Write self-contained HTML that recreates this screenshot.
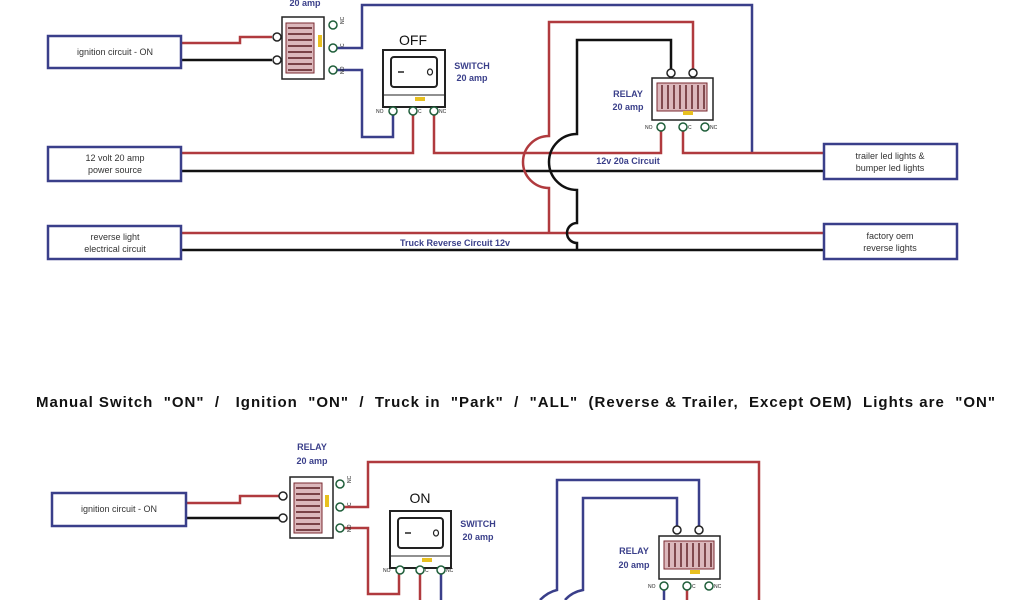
<!DOCTYPE html>
<html><head><meta charset="utf-8"><style>
html,body{margin:0;padding:0;background:#fff;}
svg{display:block;font-family:"Liberation Sans",sans-serif;}
.r{stroke:#b03a3e;stroke-width:2.5;fill:none}
.k{stroke:#111;stroke-width:2.5;fill:none}
.b{stroke:#3a3f8a;stroke-width:2.5;fill:none}
.box{fill:#fff;stroke:#3a3f8a;stroke-width:2.5}
.t{font-size:9px;fill:#333;text-anchor:middle}
.lab{font-size:9px;fill:#3a3f8a;font-weight:bold;text-anchor:middle}
.term{fill:#fff;stroke:#1f5e3a;stroke-width:1.5}
.tw{fill:#fff;stroke:#222;stroke-width:1.5}
.sm{font-size:5px;fill:#222}
</style></head><body>
<svg width="1024" height="600" viewBox="0 0 1024 600">
<defs>
<g id="coilv">
  <rect x="0" y="0" width="28" height="50" fill="#dcb8bc" stroke="#7a2a30" stroke-width="1"/>
  <g stroke="#5a1a20" stroke-width="1.4">
   <line x1="2" y1="5" x2="26" y2="5"/><line x1="2" y1="11" x2="26" y2="11"/><line x1="2" y1="17" x2="26" y2="17"/>
   <line x1="2" y1="23" x2="26" y2="23"/><line x1="2" y1="29" x2="26" y2="29"/><line x1="2" y1="35" x2="26" y2="35"/>
   <line x1="2" y1="41" x2="26" y2="41"/><line x1="2" y1="47" x2="26" y2="47"/>
  </g>
</g>
<g id="coilh">
  <rect x="0" y="0" width="50" height="28" fill="#dcb8bc" stroke="#7a2a30" stroke-width="1"/>
  <g stroke="#5a1a20" stroke-width="1.4">
   <line x1="5" y1="2" x2="5" y2="26"/><line x1="11" y1="2" x2="11" y2="26"/><line x1="17" y1="2" x2="17" y2="26"/>
   <line x1="23" y1="2" x2="23" y2="26"/><line x1="29" y1="2" x2="29" y2="26"/><line x1="35" y1="2" x2="35" y2="26"/>
   <line x1="41" y1="2" x2="41" y2="26"/><line x1="47" y1="2" x2="47" y2="26"/>
  </g>
</g>
</defs>

<!-- ============ TOP ============ -->
<text x="305" y="6" class="lab">20 amp</text>
<polyline class="r" points="181,43 240,43 240,37 272,37"/>
<polyline class="k" points="181,60 272,60"/>
<polyline class="b" points="337,48 362,48 362,5 752,5 752,153"/>
<polyline class="b" points="337,70 362,70 362,137 393,137 393,115"/>
<polyline class="r" points="181,153 413,153 413,115"/>
<polyline class="r" points="434,115 434,153 661,153 661,131"/>
<polyline class="r" points="683,131 683,153 823,153"/>
<line class="k" x1="181" y1="171" x2="823" y2="171"/>
<line class="r" x1="181" y1="233" x2="823" y2="233"/>
<line class="k" x1="181" y1="250" x2="823" y2="250"/>
<path class="r" d="M549,233 L549,188 A26,26 0 0 1 549,136 L549,22 L693,22 L693,69"/>
<path class="k" d="M577,250 L577,243 A10,10 0 0 1 577,223 L577,190 A28,28 0 0 1 577,134 L577,40 L671,40 L671,69"/>
<text x="628" y="164" class="lab">12v 20a Circuit</text>
<text x="455" y="246" class="lab">Truck Reverse Circuit  12v</text>

<rect x="282" y="17" width="42" height="62" fill="#fff" stroke="#222" stroke-width="1.5"/>
<use href="#coilv" x="286" y="23"/>
<rect x="318" y="35" width="4" height="12" fill="#e8c020"/>
<circle class="tw" cx="277" cy="37" r="4"/><circle class="tw" cx="277" cy="60" r="4"/>
<circle class="term" cx="333" cy="25" r="4"/><circle class="term" cx="333" cy="48" r="4"/><circle class="term" cx="333" cy="70" r="4"/>
<text x="344" y="24" class="sm" transform="rotate(-90 344 24)">NC</text>
<text x="344" y="47" class="sm" transform="rotate(-90 344 47)">C</text>
<text x="344" y="74" class="sm" transform="rotate(-90 344 74)">NO</text>

<text x="413" y="45" style="font-size:14px;fill:#111" text-anchor="middle">OFF</text>
<rect x="383" y="50" width="62" height="57" fill="#fff" stroke="#222" stroke-width="2"/>
<rect x="391" y="57" width="46" height="30" rx="3" fill="#fff" stroke="#222" stroke-width="2"/>
<line x1="398" y1="72" x2="404" y2="72" stroke="#222" stroke-width="1.5"/>
<ellipse cx="430" cy="72" rx="2.5" ry="3" fill="none" stroke="#222" stroke-width="1.2"/>
<line x1="383" y1="95" x2="445" y2="95" stroke="#222" stroke-width="1"/>
<rect x="415" y="97" width="10" height="4" fill="#e8c020"/>
<circle class="term" cx="393" cy="111" r="4"/><circle class="term" cx="413" cy="111" r="4"/><circle class="term" cx="434" cy="111" r="4"/>
<text x="376" y="113" class="sm">NO</text><text x="418" y="113" class="sm">C</text><text x="439" y="113" class="sm">NC</text>
<text x="472" y="69" class="lab">SWITCH</text><text x="472" y="81" class="lab">20 amp</text>

<rect x="652" y="78" width="61" height="42" fill="#fff" stroke="#222" stroke-width="1.5"/>
<use href="#coilh" x="657" y="83"/>
<rect x="683" y="111" width="10" height="4" fill="#e8c020"/>
<circle class="tw" cx="671" cy="73" r="4"/><circle class="tw" cx="693" cy="73" r="4"/>
<circle class="term" cx="661" cy="127" r="4"/><circle class="term" cx="683" cy="127" r="4"/><circle class="term" cx="705" cy="127" r="4"/>
<text x="645" y="129" class="sm">NO</text><text x="688" y="129" class="sm">C</text><text x="710" y="129" class="sm">NC</text>
<text x="628" y="97" class="lab">RELAY</text><text x="628" y="110" class="lab">20 amp</text>

<rect class="box" x="48" y="36" width="133" height="32"/><text x="115" y="55" class="t">ignition circuit - ON</text>
<rect class="box" x="48" y="147" width="133" height="34"/><text x="115" y="161" class="t">12 volt 20 amp</text><text x="115" y="173" class="t">power source</text>
<rect class="box" x="48" y="226" width="133" height="33"/><text x="115" y="240" class="t">reverse light</text><text x="115" y="252" class="t">electrical circuit</text>
<rect class="box" x="824" y="144" width="133" height="35"/><text x="890" y="159" class="t">trailer led lights &amp;</text><text x="890" y="171" class="t">bumper led lights</text>
<rect class="box" x="824" y="224" width="133" height="35"/><text x="890" y="239" class="t">factory oem</text><text x="890" y="251" class="t">reverse lights</text>

<!-- ============ TITLE ============ -->
<text x="36" y="407" textLength="959" lengthAdjust="spacing" style="font-size:15px;font-weight:bold;fill:#111" xml:space="preserve">Manual Switch  "ON"  /   Ignition  "ON"  /  Truck in  "Park"  /  "ALL"  (Reverse &amp; Trailer,  Except OEM)  Lights are  "ON"</text>

<!-- ============ BOTTOM ============ -->
<text x="312" y="450" class="lab">RELAY</text><text x="312" y="464" class="lab">20 amp</text>
<polyline class="r" points="186,503 240,503 240,496 279,496"/>
<polyline class="k" points="186,518 279,518"/>
<polyline class="r" points="344,507 368,507 368,462 759,462 759,600"/>
<polyline class="r" points="344,528 368,528 368,594 399,594 399,574"/>
<line class="r" x1="420" y1="574" x2="420" y2="600"/>
<line class="b" x1="441" y1="574" x2="441" y2="600"/>
<path class="b" d="M699,526 L699,480 L557,480 L557,590 Q548,592 540,600"/>
<path class="b" d="M677,526 L677,498 L583,498 L583,590 Q572,592 565,600"/>
<line class="b" x1="664" y1="589" x2="664" y2="600"/>
<line class="r" x1="687" y1="589" x2="687" y2="600"/>

<rect x="290" y="477" width="43" height="61" fill="#fff" stroke="#222" stroke-width="1.5"/>
<use href="#coilv" x="294" y="483"/>
<rect x="325" y="495" width="4" height="12" fill="#e8c020"/>
<circle class="tw" cx="283" cy="496" r="4"/><circle class="tw" cx="283" cy="518" r="4"/>
<circle class="term" cx="340" cy="484" r="4"/><circle class="term" cx="340" cy="507" r="4"/><circle class="term" cx="340" cy="528" r="4"/>
<text x="351" y="483" class="sm" transform="rotate(-90 351 483)">NC</text>
<text x="351" y="506" class="sm" transform="rotate(-90 351 506)">C</text>
<text x="351" y="532" class="sm" transform="rotate(-90 351 532)">NO</text>

<text x="420" y="503" style="font-size:14px;fill:#111" text-anchor="middle">ON</text>
<rect x="390" y="511" width="61" height="57" fill="#fff" stroke="#222" stroke-width="2"/>
<rect x="398" y="518" width="45" height="30" rx="3" fill="#fff" stroke="#222" stroke-width="2"/>
<line x1="405" y1="533" x2="411" y2="533" stroke="#222" stroke-width="1.5"/>
<ellipse cx="436" cy="533" rx="2.5" ry="3" fill="none" stroke="#222" stroke-width="1.2"/>
<line x1="390" y1="556" x2="451" y2="556" stroke="#222" stroke-width="1"/>
<rect x="422" y="558" width="10" height="4" fill="#e8c020"/>
<circle class="term" cx="400" cy="570" r="4"/><circle class="term" cx="420" cy="570" r="4"/><circle class="term" cx="441" cy="570" r="4"/>
<text x="383" y="572" class="sm">NO</text><text x="425" y="572" class="sm">C</text><text x="446" y="572" class="sm">NC</text>
<text x="478" y="527" class="lab">SWITCH</text><text x="478" y="540" class="lab">20 amp</text>

<rect x="659" y="536" width="61" height="43" fill="#fff" stroke="#222" stroke-width="1.5"/>
<use href="#coilh" x="664" y="541"/>
<rect x="690" y="570" width="10" height="4" fill="#e8c020"/>
<circle class="tw" cx="677" cy="530" r="4"/><circle class="tw" cx="699" cy="530" r="4"/>
<circle class="term" cx="664" cy="586" r="4"/><circle class="term" cx="687" cy="586" r="4"/><circle class="term" cx="709" cy="586" r="4"/>
<text x="648" y="588" class="sm">NO</text><text x="692" y="588" class="sm">C</text><text x="714" y="588" class="sm">NC</text>
<text x="634" y="554" class="lab">RELAY</text><text x="634" y="568" class="lab">20 amp</text>

<rect class="box" x="52" y="493" width="134" height="33"/><text x="119" y="512" class="t">ignition circuit - ON</text>
</svg>
</body></html>
